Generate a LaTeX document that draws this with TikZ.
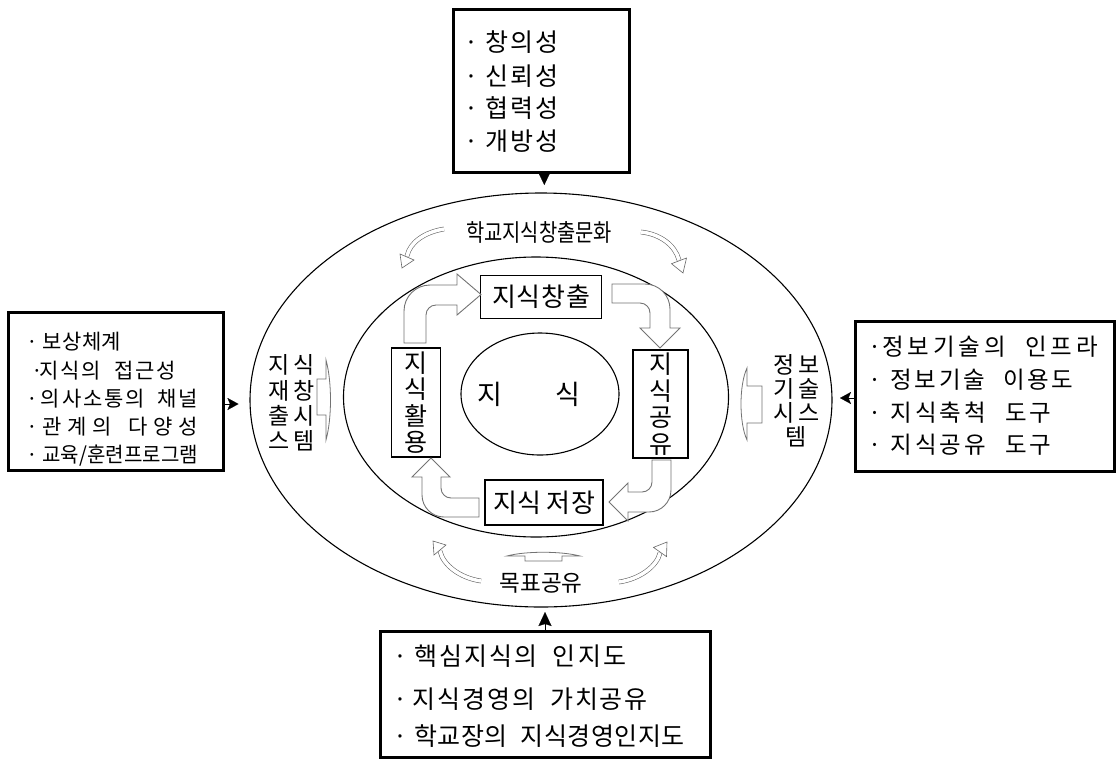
\documentclass[tikz,border=0pt]{standalone}
\usepackage{graphicx}
\usepackage{fontspec}
\setmainfont{Noto Sans CJK KR}
\usetikzlibrary{shapes.geometric,arrows.meta,calc}
\newcommand\kfs[2]{\fontsize{#1pt}{#2pt}\selectfont}
% bullet line: #1 gap from bullet centre to text box, #2 text box width, #3 text
\newcommand\bline[3]{\makebox[0pt][c]{·}\hspace{#1pt}\makebox[#2pt][s]{#3}}
\newcommand\g{\hss}
\newcommand\wgap[1]{\hspace{#1pt}\hss}
\begin{document}
\begin{tikzpicture}[x=1pt,y=-1pt,
  ell/.style={draw, ellipse, line width=1.1pt, inner sep=0pt},
  ibox/.style={draw, rectangle, line width=1.2pt, inner sep=0pt, align=center},
  obox/.style={draw, rectangle, line width=3pt, inner sep=0pt},
  oline/.style={anchor=west, inner sep=0pt},
  barrow/.style={draw=black!55, line width=0.9pt, fill=white, line join=miter},
  sidearrow/.style={draw=black!55, line width=0.8pt, fill=white},
  cshaft/.style={draw=black!60, line width=0.6pt, double=white, double distance=3.5pt},
  chead/.style={draw=black!60, line width=0.6pt, fill=white},
  tridown/.style={line width=0.1pt, -{Triangle[length=11pt,width=10.5pt]}},
  triup/.style={line width=0.1pt, -{Stealth[length=14pt,width=13pt,inset=2pt]}},
  trilr/.style={line width=0.1pt, -{Stealth[length=11pt,width=12pt,inset=2.5pt]}}
]
\useasboundingbox (0,0) rectangle (1116,761);

% ellipses
\node[ell, minimum width=582pt, minimum height=414pt] (outer) at (541,400) {};
\node[ell, minimum width=385pt, minimum height=280pt] (inner) at (536,397) {};
\node[ell, minimum width=158pt, minimum height=122pt, font=\kfs{27}{30}] (core) at (540,394) {\hspace{-22pt}지\hspace{53pt}식};

% inner boxes
\node[ibox, minimum width=121pt, minimum height=43pt, font=\kfs{26}{28}] (create) at (541,297) {\makebox[98pt][s]{지\g 식\g 창\g 출}};
\node[ibox, minimum width=118pt, minimum height=45pt, font=\kfs{26}{28}] (store) at (544,502.5) {\makebox[102pt][s]{지\g 식\wgap{5}저\g 장}};
\node[ibox, minimum width=49pt, minimum height=109pt, font=\kfs{25}{26.5}] (use) at (416,402.5) {지\\식\\활\\용};
\node[ibox, minimum width=55pt, minimum height=108pt, font=\kfs{25}{26.5}] (share) at (660.5,404) {지\\식\\공\\유};

% block arrows between the boxes
\draw[barrow] (404,343) [rounded corners=26pt]-- (404,285) [sharp corners]-- (457,285) -- (457,274) -- (481,294.5) -- (457,315) -- (457,305) [rounded corners=10pt]-- (426,305) [sharp corners]-- (426,343) -- cycle;
\draw[barrow] (612,284) [rounded corners=25pt]-- (670,284) [sharp corners]-- (670,328) -- (680,328) -- (660,348) -- (640,328) -- (650,328) [rounded corners=10pt]-- (650,303) [sharp corners]-- (612,303) -- cycle;
\draw[barrow] (671,460) [rounded corners=22pt]-- (671,512) [sharp corners]-- (628,512) -- (628,521) -- (609,502) -- (628,483) -- (628,492) [rounded corners=10pt]-- (652,492) [sharp corners]-- (652,460) -- cycle;
\draw[barrow] (479,517) [rounded corners=22pt]-- (422,517) [sharp corners]-- (422,477) -- (412,477) -- (431,458) -- (450,477) -- (441,477) [rounded corners=10pt]-- (441,498) [sharp corners]-- (479,498) -- cycle;

% ring labels
\node[font=\kfs{24}{26}] (culture) at (539,232) {\resizebox{146pt}{\height}{학교지식창출문화}};
\node[font=\kfs{23}{26}] (goal) at (541,583) {\resizebox{83pt}{\height}{목표공유}};
\node[font=\kfs{23}{25.3}, align=center] (lsys) at (291.5,403) {지\hspace{4pt}식\\재\hspace{4pt}창\\출\hspace{4pt}시\\스\hspace{4pt}템};
\node[font=\kfs{23}{24}, align=center] (rsys) at (796.5,401) {정\hspace{4pt}보\\기\hspace{4pt}술\\시\hspace{4pt}스\\템};

% inward side arrows
\draw[sidearrow] (317,379) -- (326,379) -- (326,360) .. controls (332,382) and (332,418) .. (326,440) -- (326,415) -- (317,415) -- cycle;
\draw[sidearrow] (762,386) -- (747,386) -- (747,368) .. controls (739,385) and (739,423) .. (747,440) -- (747,423) -- (762,423) -- cycle;
\draw[sidearrow] (525,561) -- (525,556) -- (507,556) .. controls (525,551) and (561,551) .. (580,556) -- (562,556) -- (562,561) -- cycle;

% curved arrows
\draw[cshaft] (444,229) .. controls (425,232) and (410,242) .. (407,256);
\draw[chead] (400,254) -- (402,268) -- (414,260) -- cycle;
\draw[cshaft] (641,232) .. controls (660,234) and (675,245) .. (679,260);
\draw[chead] (671.5,263.7) -- (683,273) -- (686.5,258) -- cycle;
\draw[cshaft] (481,581) .. controls (460,578) and (443,565) .. (440,551);
\draw[chead] (434,555) -- (433,541) -- (446,545) -- cycle;
\draw[cshaft] (619,582) .. controls (640,579) and (657,566) .. (660,553);
\draw[chead] (653.5,547.4) -- (667,542) -- (666.5,556.6) -- cycle;

% outer boxes
\node[obox, minimum width=175.7pt, minimum height=163.3pt] (topbox) at (541.2,90.7) {};
\node[obox, minimum width=215pt, minimum height=158pt] (lbox) at (115.8,391) {};
\node[obox, minimum width=259.5pt, minimum height=150.7pt] (rbox) at (984.75,396.35) {};
\node[obox, minimum width=330pt, minimum height=126pt] (bbox) at (545,694) {};

% top box text
\begin{scope}[every node/.style={oline, font=\kfs{25}{28}}]
\node (t1) at (471.7,42.5) {\bline{14}{72.6}{창\g 의\g 성}};
\node (t2) at (471.7,76) {\bline{14}{72.6}{신\g 뢰\g 성}};
\node (t3) at (471.7,108.3) {\bline{14}{72.6}{협\g 력\g 성}};
\node (t4) at (471.7,141) {\bline{14}{72.6}{개\g 방\g 성}};
\end{scope}
% left box text
\begin{scope}[every node/.style={oline, font=\kfs{21}{24}}]
\node (l1) at (31.7,342) {\bline{10.6}{78.7}{보\g 상\g 체\g 계}};
\node (l2) at (36.7,370.5) {\bline{2.3}{137}{지\g 식\g 의\wgap{11}접\g 근\g 성}};
\node (l3) at (31.7,399) {\bline{9}{157}{의\g 사\g 소\g 통\g 의\wgap{11}채\g 널}};
\node (l4) at (31.7,427) {\bline{10.6}{155.4}{관\g 계\g 의\wgap{11}다\g 양\g 성}};
\node (l5) at (31.7,455.5) {\makebox[0pt][c]{·}\hspace{10.6pt}\resizebox{155.4pt}{\height}{교육/훈련프로그램}};
\end{scope}
% right box text
\begin{scope}[every node/.style={oline, font=\kfs{23.5}{26}}]
\node (r1) at (875,346.7) {\bline{7.3}{215.4}{정\g 보\g 기\g 술\g 의\wgap{16}인\g 프\g 라}};
\node (r2) at (875,380) {\bline{15.7}{182}{정\g 보\g 기\g 술\wgap{16}이\g 용\g 도}};
\node (r3) at (875,413) {\bline{15.7}{160.3}{지\g 식\g 축\g 척\wgap{16}도\g 구}};
\node (r4) at (875,445) {\bline{15.7}{160.3}{지\g 식\g 공\g 유\wgap{16}도\g 구}};
\end{scope}
% bottom box text
\begin{scope}[every node/.style={oline, font=\kfs{25}{28}}]
\node (b1) at (400,656) {\bline{14}{212}{핵\g 심\g 지\g 식\g 의\wgap{13}인\g 지\g 도}};
\node (b2) at (400,699) {\bline{12.3}{235.4}{지\g 식\g 경\g 영\g 의\wgap{13}가\g 치\g 공\g 유}};
\node (b3) at (400,736) {\bline{14}{270.3}{학\g 교\g 장\g 의\wgap{13}지\g 식\g 경\g 영\g 인\g 지\g 도}};
\end{scope}

% connector triangles
\coordinate (ttip) at (544.3,185);
\coordinate (btip) at (545,612);
\coordinate (ltip) at (238.5,404);
\coordinate (rtip) at (840,398);
\draw[tridown] (ttip |- topbox.south) -- (ttip);
\draw[triup] (btip |- bbox.north) -- (btip);
\draw[trilr] (ltip -| lbox.east) -- (ltip);
\draw[trilr] (rtip -| rbox.west) -- (rtip);
\end{tikzpicture}
\end{document}
